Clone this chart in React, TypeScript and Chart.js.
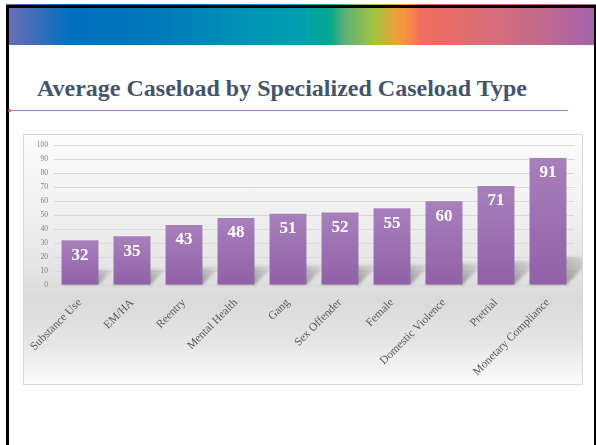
import React, { useEffect, useRef } from "react";
import { Chart, registerables } from "chart.js";

Chart.register(...registerables);

const title = "Average Caseload by Specialized Caseload Type";
const categories = [
  "Substance Use",
  "EM/HA",
  "Reentry",
  "Mental Health",
  "Gang",
  "Sex Offender",
  "Female",
  "Domestic Violence",
  "Pretrial",
  "Monetary Compliance",
];
const caseloads = [32, 35, 43, 48, 51, 52, 55, 60, 71, 91];
const yMin = 0;
const yMax = 100;
const yStep = 10;

const bandGradient =
  "linear-gradient(to right, #6A6DB3 0%, #0070C0 10.5%, #0075BA 22%, #0085B8 32.6%, #0095B5 41%, #00A0B0 49.7%, #00A88F 54.9%, #5DB07A 57.4%, #A4C43E 62.6%, #E8A43A 66%, #F6933B 67.7%, #F07060 70.3%, #E86C66 73.6%, #D46E7C 83.9%, #C16A8C 90.8%, #A662AA 100%)";

const shadowPlugin = {
  id: "floorShadow",
  beforeDatasetsDraw(chart: any) {
    const ctx = chart.ctx;
    const meta = chart.getDatasetMeta(0);
    ctx.save();
    meta.data.forEach((bar: any) => {
      const half = bar.width / 2;
      const left = bar.x - half;
      const right = bar.x + half;
      const base = bar.base;
      const h = base - bar.y;
      const s = 8 + 0.155 * h;
      const g = ctx.createLinearGradient(right, base, right + s, base - s);
      g.addColorStop(0, "rgba(90,90,90,0.55)");
      g.addColorStop(1, "rgba(140,140,140,0.12)");
      ctx.fillStyle = g;
      ctx.filter = "blur(1.5px)";
      ctx.beginPath();
      ctx.moveTo(left, base);
      ctx.lineTo(right, base);
      ctx.lineTo(right + s, base - s);
      ctx.lineTo(left + s, base - s);
      ctx.closePath();
      ctx.fill();
    });
    ctx.restore();
  },
};

const labelPlugin = {
  id: "barValues",
  afterDatasetsDraw(chart: any) {
    const ctx = chart.ctx;
    const meta = chart.getDatasetMeta(0);
    const data = chart.data.datasets[0].data;
    ctx.save();
    ctx.fillStyle = "#ffffff";
    ctx.font = "bold 17px 'Liberation Serif'";
    ctx.textAlign = "center";
    ctx.textBaseline = "middle";
    meta.data.forEach((bar: any, i: number) => {
      ctx.fillText(String(data[i]), bar.x, bar.y + 15);
    });
    ctx.restore();
  },
};

export default function App() {
  const canvasRef = useRef<HTMLCanvasElement | null>(null);

  useEffect(() => {
    const canvas = canvasRef.current;
    if (!canvas) return;
    const chart = new Chart(canvas, {
      type: "bar",
      data: {
        labels: categories,
        datasets: [
          {
            data: caseloads,
            backgroundColor: (c: any) => {
              const ch = c.chart;
              if (!ch.chartArea || c.type !== "data") return "#9C6DB0";
              const y = ch.scales.y;
              const top = y.getPixelForValue(c.raw);
              const bottom = y.getPixelForValue(0);
              const g = ch.ctx.createLinearGradient(0, top, 0, bottom);
              g.addColorStop(0, "#A780BA");
              g.addColorStop(1, "#9160A8");
              return g;
            },
            borderWidth: 0,
            categoryPercentage: 1,
            barPercentage: 0.71,
          },
        ],
      },
      options: {
        animation: false,
        responsive: false,
        devicePixelRatio: 1,
        layout: { padding: { top: 5, right: 8, left: 0, bottom: 0 } },
        plugins: {
          legend: { display: false },
          tooltip: { enabled: false },
        },
        scales: {
          x: {
            grid: { display: false },
            border: { display: false },
            ticks: {
              maxRotation: 45,
              minRotation: 45,
              autoSkip: false,
              color: "#595959",
              padding: 3,
              font: { family: "'Liberation Serif'", size: 11.5 },
            },
            afterFit: (s: any) => {
              s.height = 99;
            },
          },
          y: {
            min: yMin,
            max: yMax,
            grid: { color: "#D9D9D9", drawTicks: false },
            border: { display: false },
            ticks: {
              stepSize: yStep,
              color: "#808080",
              padding: 6,
              font: { family: "'Liberation Serif'", size: 7.5 },
            },
            afterFit: (s: any) => {
              s.width = 30;
            },
          },
        },
      },
      plugins: [shadowPlugin, labelPlugin],
    } as any);
    return () => chart.destroy();
  }, []);

  return (
    <div
      style={{
        position: "absolute",
        left: 0,
        top: 0,
        width: 596,
        height: 445,
        background: "#ffffff",
        overflow: "hidden",
      }}
    >
      <div
        style={{
          position: "absolute",
          left: 6,
          top: 4,
          width: 590,
          height: 1,
          background: bandGradient,
        }}
      />
      <div
        style={{
          position: "absolute",
          left: 6,
          top: 5,
          width: 590,
          height: 460,
          boxSizing: "border-box",
          borderLeft: "3px solid #000",
          borderTop: "3px solid #000",
          borderRight: "2px solid #000",
        }}
      />
      <div
        style={{
          position: "absolute",
          left: 9,
          top: 8,
          width: 585,
          height: 37,
          background: bandGradient,
        }}
      />
      <div
        style={{
          position: "absolute",
          left: 37,
          top: 72,
          whiteSpace: "nowrap",
          fontFamily: "'Liberation Serif', serif",
          fontWeight: "bold",
          fontSize: 24,
          lineHeight: "32px",
          color: "#44546A",
        }}
      >
        {title}
      </div>
      <div
        style={{
          position: "absolute",
          left: 9,
          top: 110,
          width: 559,
          height: 1,
          background: "#B07CC8",
        }}
      />
      <div
        style={{
          position: "absolute",
          left: 8,
          top: 109,
          width: 3,
          height: 3,
          borderRadius: 2,
          background: "#D0508C",
        }}
      />
      <div
        style={{
          position: "absolute",
          left: 23,
          top: 134,
          width: 560,
          height: 251,
          boxSizing: "border-box",
          border: "1px solid #D9D9D9",
          background:
            "linear-gradient(to bottom, #FCFCFC 0%, #F3F3F3 25%, #E7E7E7 50%, #DADADA 66%, #E4E4E4 82%, #FBFBFB 100%)",
        }}
      >
        <canvas
          ref={canvasRef}
          width={558}
          height={249}
          style={{ display: "block", width: 558, height: 249 }}
        />
      </div>
    </div>
  );
}
